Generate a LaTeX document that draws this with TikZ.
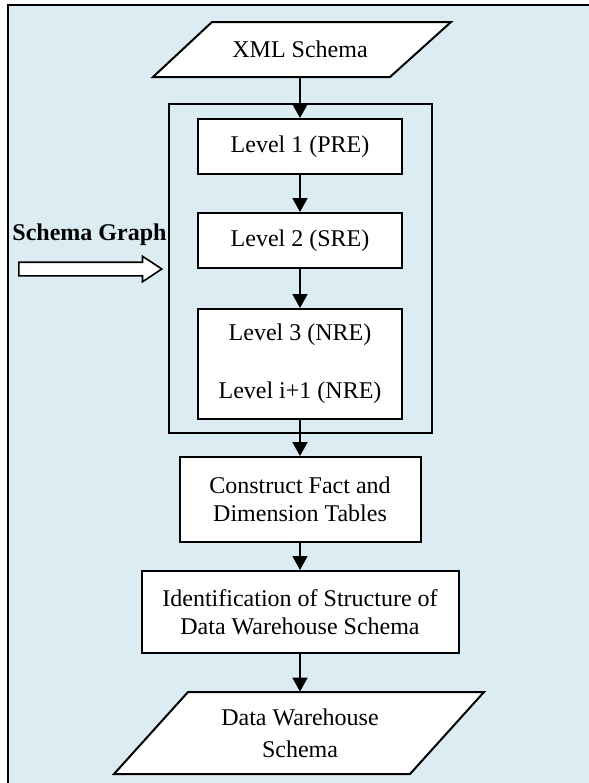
\documentclass[tikz,border=0pt]{standalone}
\usepackage{fontspec}
\setmainfont{Liberation Serif}
\usetikzlibrary{arrows.meta,shapes.arrows}

\definecolor{bgblue}{RGB}{219,237,243}

\tikzset{
	stepbox/.style={draw, fill=white, line width=1pt, inner sep=0pt, align=center,
		font=\fontsize{12}{14}\selectfont},
	iotext/.style={inner sep=0pt, align=center, font=\fontsize{12}{14}\selectfont},
	iobox/.style={draw, fill=white, line width=1pt},
	flow/.style={line width=1pt, -{Triangle[width=7.5pt,length=7pt]}},
}

\begin{document}
\begin{tikzpicture}[x=0.5pt, y=-0.5pt]
		\useasboundingbox (0,0) rectangle (589,783);
		\clip (0,0) rectangle (589,783);

		% Draw the background frame
		\draw[fill=bgblue, line width=1pt] (8,5) rectangle (640,840);

		% Draw the input shape
		\draw[iobox] (153,77) -- (390,77) -- (451,22) -- (212,22) -- cycle;
		\node[iotext, minimum height=27.5pt] (xml) at (300,49.5) {XML Schema};

		% Draw the box round the levels
		\node[draw, line width=0.8pt, inner sep=0pt, minimum width=131.5pt, minimum height=164.5pt] (grp) at (300.5,268.5) {};

		% Draw the levels
		\node[stepbox, minimum width=102pt, minimum height=27.5pt] (lvl1) at (300,146.5) {Level 1 (PRE)};
		\node[stepbox, minimum width=102pt, minimum height=27.5pt] (lvl2) at (300,240.5) {Level 2 (SRE)};
		\node[stepbox, minimum width=102pt, minimum height=55pt] (lvl3) at (300,364) {Level 3 (NRE)\\[15pt]Level i+1 (NRE)};

		% Draw the later steps
		\node[stepbox, minimum width=120.5pt, minimum height=42.5pt] (cons) at (300,499.5) {Construct Fact and\\Dimension Tables};
		\node[stepbox, minimum width=158.5pt, minimum height=41pt] (ident) at (300,612) {Identification of Structure of\\Data Warehouse Schema};

		% Draw the output shape
		\draw[iobox] (114,774) -- (410,774) -- (484,692) -- (188,692) -- cycle;
		\node[iotext, minimum height=41pt] (dw) at (300,733) {Data Warehouse\\[2pt]Schema};

		% Draw the schema graph input
		\node[anchor=base, inner sep=0pt, font=\bfseries\fontsize{12}{14}\selectfont] (sglabel) at (89.5,240) {Schema Graph};
		\node[single arrow, draw, fill=white, line width=0.8pt, inner sep=3pt, minimum height=71.5pt,
			single arrow head extend=3pt, single arrow tip angle=67, anchor=tail] (sgarrow) at (18,269) {};

		% Draw the arrows between the steps
		\draw[flow] (xml) -- (lvl1);
		\draw[flow] (lvl1) -- (lvl2);
		\draw[flow] (lvl2) -- (lvl3);
		\draw[flow] (lvl3) -- (cons);
		\draw[flow] (cons) -- (ident);
		\draw[flow] (ident) -- (dw);

	\end{tikzpicture}
\end{document}
